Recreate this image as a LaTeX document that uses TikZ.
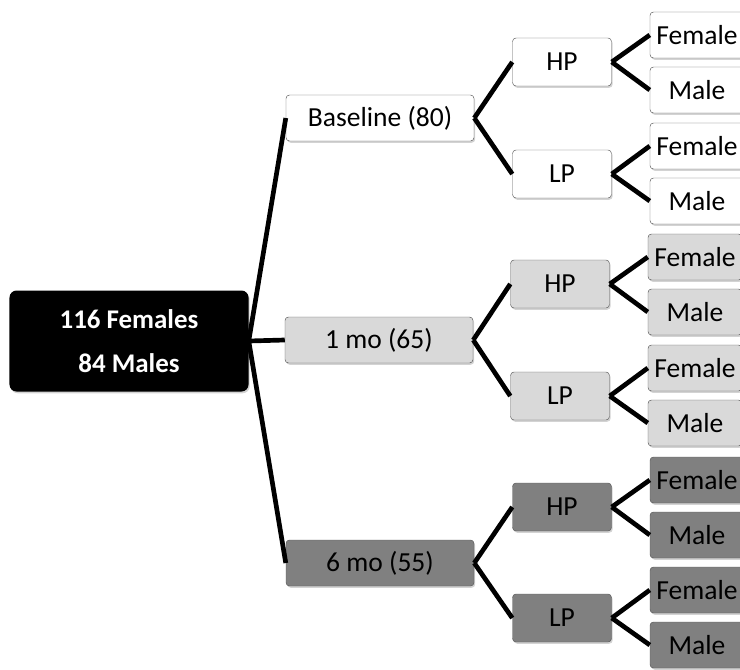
\documentclass[tikz,border=0pt]{standalone}
\usepackage{fontspec}
\setmainfont{Carlito}
\usepackage{tikz}
\usetikzlibrary{shapes.geometric, shadows}
\tikzset{
  group/.style={
    rectangle,
    rounded corners=6pt,
    minimum width=7.17cm,
    minimum height=3.03cm, align=center,
    fill=black,
    text=white,
    font=\bfseries\fontsize{23}{37}\selectfont,
    drop shadow={shadow xshift=1pt, shadow yshift=-1.5pt, opacity=0.35}
    },
  visit/.style={
    rectangle,
    rounded corners=3pt,
    minimum width=5.64cm,
    minimum height=1.38cm, align=center,
    draw=black!65,
    font=\fontsize{23.5}{26}\selectfont,
    drop shadow={shadow xshift=1pt, shadow yshift=-1.5pt, opacity=0.35}
    },
  diet/.style={visit, minimum width=2.97cm, minimum height=1.44cm},
  sex/.style={visit, minimum width=2.82cm, inner sep=1pt},
  link/.style={line width=4pt, black},
}

\begin{document}
\begin{tikzpicture}[x=0.03cm, y=-0.03cm]
\clip (0,0) rectangle (740,669);

\node (root) [group] at (129,341) {116 Females\\84 Males};

% visits
\node (base) [visit, fill=white] at (380,118) {Baseline (80)};
\node (mo1) [visit, fill=black!15] at (379,340) {1 mo (65)};
\node (mo6) [visit, fill=black!50] at (380,563) {6 mo (55)};

% HP / LP
\node (baseHP) [diet, fill=white] at (562,62) {HP};
\node (baseLP) [diet, fill=white] at (562,174) {LP};
\node (mo1HP) [diet, fill=black!15] at (560,284) {HP};
\node (mo1LP) [diet, fill=black!15] at (560,396) {LP};
\node (mo6HP) [diet, fill=black!50] at (562,507) {HP};
\node (mo6LP) [diet, fill=black!50] at (562,618) {LP};

% sexes
\node (baseHPf) [sex, fill=white] at (697,35) {Female};
\node (baseHPm) [sex, fill=white] at (697,90) {Male};
\node (baseLPf) [sex, fill=white] at (697,146) {Female};
\node (baseLPm) [sex, fill=white] at (697,201) {Male};
\node (mo1HPf) [sex, fill=black!15] at (695,257) {Female};
\node (mo1HPm) [sex, fill=black!15] at (695,312) {Male};
\node (mo1LPf) [sex, fill=black!15] at (695,368) {Female};
\node (mo1LPm) [sex, fill=black!15] at (695,423) {Male};
\node (mo6HPf) [sex, fill=black!50] at (697,480) {Female};
\node (mo6HPm) [sex, fill=black!50] at (697,535) {Male};
\node (mo6LPf) [sex, fill=black!50] at (697,590) {Female};
\node (mo6LPm) [sex, fill=black!50] at (697,645) {Male};

\draw [link] (root.east) -- (base.west);
\draw [link] (root.east) -- (mo1.west);
\draw [link] (root.east) -- (mo6.west);

\draw [link] (base.east) -- (baseHP.west);
\draw [link] (base.east) -- (baseLP.west);
\draw [link] (mo1.east) -- (mo1HP.west);
\draw [link] (mo1.east) -- (mo1LP.west);
\draw [link] (mo6.east) -- (mo6HP.west);
\draw [link] (mo6.east) -- (mo6LP.west);

\draw [link] (baseHP.east) -- (baseHPf.west);
\draw [link] (baseHP.east) -- (baseHPm.west);
\draw [link] (baseLP.east) -- (baseLPf.west);
\draw [link] (baseLP.east) -- (baseLPm.west);
\draw [link] (mo1HP.east) -- (mo1HPf.west);
\draw [link] (mo1HP.east) -- (mo1HPm.west);
\draw [link] (mo1LP.east) -- (mo1LPf.west);
\draw [link] (mo1LP.east) -- (mo1LPm.west);
\draw [link] (mo6HP.east) -- (mo6HPf.west);
\draw [link] (mo6HP.east) -- (mo6HPm.west);
\draw [link] (mo6LP.east) -- (mo6LPf.west);
\draw [link] (mo6LP.east) -- (mo6LPm.west);

\end{tikzpicture}
\end{document}
